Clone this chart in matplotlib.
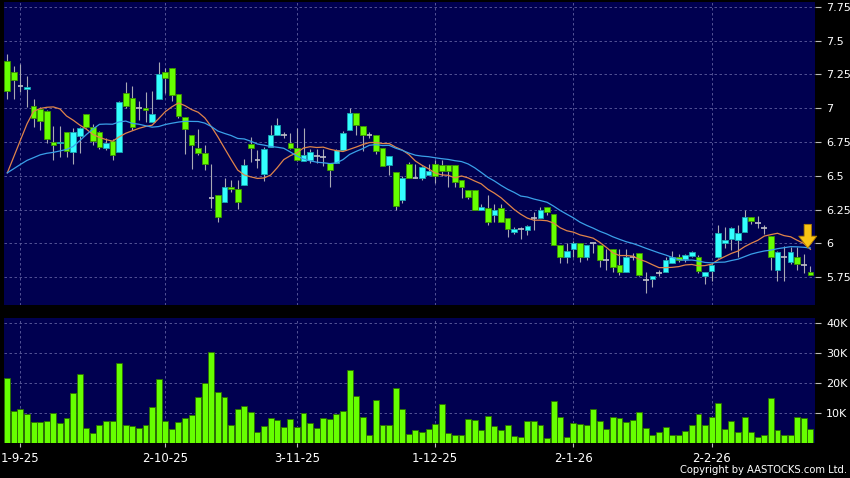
import numpy as np
import pandas as pd
import matplotlib
matplotlib.use("Agg")
import matplotlib.pyplot as plt

# daily OHLC (oldest first)
opens = [7.35, 7.265, 7.166, 7.14, 7.016, 6.99, 6.98, 6.752, 6.74, 6.826,
         6.679, 6.797, 6.955, 6.863, 6.826, 6.705, 6.76, 6.679, 7.11, 7.072,
         7.0, 7.0, 6.90, 7.066, 7.266, 7.295, 7.103, 6.934, 6.803, 6.705,
         6.668, 6.336, 6.36, 6.306, 6.42, 6.40, 6.43, 6.734, 6.614, 6.513,
         6.712, 6.80, 6.80, 6.741, 6.704, 6.606, 6.618, 6.648, 6.64, 6.594,
         6.594, 6.692, 6.84, 6.963, 6.865, 6.803, 6.803, 6.704, 6.58, 6.527,
         6.323, 6.586, 6.48, 6.48, 6.505, 6.586, 6.58, 6.58, 6.58, 6.468,
         6.394, 6.394, 6.25, 6.259, 6.21, 6.259, 6.185, 6.086, 6.103, 6.10,
         6.185, 6.185, 6.266, 6.217, 5.988, 5.90, 5.956, 6.0, 5.90, 6.0,
         5.988, 5.877, 5.956, 5.84, 5.79, 5.90, 5.926, 5.73, 5.734, 5.783,
         5.79, 5.857, 5.90, 5.884, 5.908, 5.90, 5.757, 5.795, 5.90, 6.0,
         6.03, 6.025, 6.087, 6.198, 6.15, 6.111, 6.057, 5.80, 5.90, 5.864,
         5.90, 5.84, 5.79]
highs = [7.40, 7.314, 7.326, 7.24, 7.065, 7.01, 6.986, 6.87, 6.87, 6.826,
         6.85, 6.86, 6.955, 6.88, 6.83, 6.78, 6.77, 7.05, 7.19, 7.166,
         7.05, 7.123, 7.128, 7.34, 7.295, 7.295, 7.103, 6.934, 6.803, 6.845,
         6.73, 6.589, 6.36, 6.483, 6.47, 6.47, 6.626, 6.79, 6.69, 6.71,
         6.877, 6.93, 6.82, 6.815, 6.85, 6.852, 6.70, 6.70, 6.70, 6.594,
         6.70, 6.83, 7.0, 6.963, 6.865, 6.82, 6.803, 6.704, 6.643, 6.527,
         6.50, 6.60, 6.59, 6.57, 6.59, 6.616, 6.62, 6.58, 6.58, 6.468,
         6.394, 6.394, 6.29, 6.357, 6.29, 6.29, 6.185, 6.12, 6.12, 6.135,
         6.23, 6.266, 6.266, 6.217, 5.988, 6.0, 6.02, 6.0, 5.988, 6.0,
         5.988, 5.956, 5.956, 5.956, 5.956, 5.93, 5.926, 5.79, 5.76, 5.80,
         5.90, 5.94, 5.92, 5.92, 5.94, 5.913, 5.79, 5.85, 6.136, 6.124,
         6.12, 6.137, 6.247, 6.198, 6.20, 6.136, 6.057, 5.944, 5.98, 5.975,
         5.975, 5.92, 5.83]
lows = [7.065, 7.065, 7.122, 7.01, 6.863, 6.839, 6.74, 6.617, 6.64, 6.64,
        6.587, 6.666, 6.85, 6.73, 6.70, 6.69, 6.617, 6.675, 7.0, 6.84,
        6.914, 6.90, 6.90, 7.066, 7.11, 7.05, 6.926, 6.66, 6.55, 6.655,
        6.54, 6.262, 6.158, 6.306, 6.38, 6.256, 6.43, 6.60, 6.557, 6.46,
        6.712, 6.80, 6.78, 6.70, 6.606, 6.606, 6.594, 6.594, 6.57, 6.42,
        6.594, 6.692, 6.84, 6.80, 6.68, 6.78, 6.66, 6.569, 6.507, 6.25,
        6.30, 6.48, 6.48, 6.47, 6.505, 6.443, 6.50, 6.42, 6.42, 6.333,
        6.33, 6.25, 6.25, 6.136, 6.16, 6.16, 6.05, 6.07, 6.03, 6.06,
        6.10, 6.185, 6.21, 5.988, 5.852, 5.852, 5.90, 5.865, 5.88, 5.93,
        5.823, 5.803, 5.79, 5.766, 5.79, 5.88, 5.76, 5.63, 5.68, 5.76,
        5.79, 5.857, 5.86, 5.86, 5.90, 5.78, 5.703, 5.72, 5.89, 5.963,
        5.95, 5.90, 6.087, 6.14, 6.11, 6.07, 5.80, 5.72, 5.725, 5.85,
        5.80, 5.78, 5.765]
closes = [7.13, 7.21, 7.166, 7.155, 6.927, 6.905, 6.77, 6.728, 6.75, 6.68,
          6.821, 6.85, 6.863, 6.76, 6.71, 6.74, 6.654, 7.048, 7.018, 6.863,
          7.0, 6.988, 6.956, 7.251, 7.221, 7.098, 6.94, 6.847, 6.729, 6.665,
          6.587, 6.336, 6.195, 6.414, 6.40, 6.306, 6.58, 6.705, 6.614, 6.70,
          6.798, 6.877, 6.80, 6.704, 6.618, 6.655, 6.675, 6.648, 6.64, 6.545,
          6.692, 6.815, 6.963, 6.872, 6.803, 6.803, 6.68, 6.569, 6.643, 6.273,
          6.483, 6.48, 6.48, 6.562, 6.537, 6.498, 6.537, 6.537, 6.456, 6.414,
          6.34, 6.25, 6.27, 6.16, 6.25, 6.16, 6.103, 6.103, 6.103, 6.128,
          6.185, 6.25, 6.229, 5.988, 5.90, 5.943, 6.0, 5.90, 5.988, 6.0,
          5.877, 5.877, 5.823, 5.79, 5.90, 5.90, 5.766, 5.73, 5.758, 5.783,
          5.877, 5.90, 5.876, 5.913, 5.933, 5.795, 5.79, 5.84, 6.074, 6.025,
          6.11, 6.074, 6.198, 6.166, 6.15, 6.111, 5.90, 5.938, 5.90, 5.938,
          5.85, 5.84, 5.765]
# closes before the first bar (only feed the moving averages)
pre_closes = [6.59, 6.54, 6.56, 6.52, 6.49, 6.54, 6.59, 6.54, 6.46, 6.39,
              6.0, 5.95, 5.95, 6.0, 6.7, 6.68, 6.7, 6.9, 7.2]
# volume in thousands of shares
volume = [21.5, 10.6, 11.5, 9.6, 7.2, 7.0, 7.4, 10.0, 6.7, 8.3,
          16.7, 23.0, 5.1, 3.4, 6.2, 7.4, 7.5, 26.5, 6.1, 5.6,
          5.1, 6.1, 11.9, 21.4, 7.3, 4.6, 7.0, 8.3, 9.3, 15.2,
          20.0, 30.3, 16.9, 15.5, 5.9, 11.4, 12.5, 10.4, 3.6, 5.6,
          8.4, 7.7, 5.4, 8.0, 5.4, 10.1, 6.6, 5.2, 8.4, 8.1,
          9.6, 10.7, 24.3, 15.6, 8.6, 2.7, 14.4, 6.1, 6.0, 18.3,
          11.4, 3.1, 4.4, 3.9, 4.8, 6.3, 13.0, 3.4, 2.8, 2.8,
          8.0, 7.6, 4.3, 9.1, 5.7, 4.4, 6.1, 2.5, 2.2, 7.5,
          7.4, 5.9, 1.8, 13.9, 8.8, 2.1, 6.6, 6.3, 5.9, 11.4,
          7.5, 4.6, 8.8, 8.4, 6.9, 7.6, 10.4, 5.0, 2.8, 3.6,
          5.5, 2.7, 2.8, 4.1, 5.9, 9.6, 6.1, 8.8, 13.4, 4.9,
          7.4, 3.8, 8.7, 3.9, 2.1, 2.8, 15.0, 4.5, 2.9, 2.9,
          8.7, 8.3, 4.9]
date_labels = ["1-9-25", "2-10-25", "3-11-25", "1-12-25", "2-1-26", "2-2-26"]
date_idx = [2, 24, 44, 65, 86, 107]
price_ticks = [5.75, 6, 6.25, 6.5, 6.75, 7, 7.25, 7.5, 7.75]
price_tick_labels = ["5.75", "6", "6.25", "6.5", "6.75", "7", "7.25", "7.5", "7.75"]
vol_ticks = [10, 20, 30, 40]
vol_tick_labels = ["10K", "20K", "30K", "40K"]

o = np.array(opens)
h = np.array(highs)
l = np.array(lows)
c = np.array(closes)
v = np.array(volume)
x = np.arange(len(c))

allc = pd.Series(pre_closes + closes)
ma10 = allc.rolling(10).mean().values[len(pre_closes):]
ma20 = allc.rolling(20).mean().values[len(pre_closes):]

navy = "#000050"
grid_c = "#5f5f9f"
up_c, up_edge = "#33ffff", "#1aa6b0"
dn_c, dn_edge = "#66ff00", "#3d9400"
wick_c = "#a9a9b4"

fig = plt.figure(figsize=(8.5, 4.78), dpi=100, facecolor="black")
ax = fig.add_axes([4 / 850, 1 - 305 / 478, 811 / 850, 303 / 478], facecolor=navy)
ax2 = fig.add_axes([4 / 850, 1 - 443.3 / 478, 811 / 850, 125 / 478], facecolor=navy)

for a in (ax, ax2):
    for s in a.spines.values():
        s.set_visible(False)
    a.set_xlim(-0.5, 122.7)
    a.set_xticks(date_idx)
    a.grid(True, color=grid_c, linestyle=(0, (3, 3)), linewidth=0.6)
    a.set_axisbelow(True)
    a.yaxis.tick_right()
    a.tick_params(axis="y", colors="white", labelsize=8, length=4, pad=4,
                  color="#bbbbbb", width=0.8)

# candles
up = c > o
dn = c < o
flat = c == o
ax.vlines(x, l, h, color=wick_c, linewidth=0.8, zorder=2)
ax.bar(x[up], c[up] - o[up], bottom=o[up], width=0.86, color=up_c,
       edgecolor=up_edge, linewidth=0.6, zorder=3)
ax.bar(x[dn], o[dn] - c[dn], bottom=c[dn], width=0.86, color=dn_c,
       edgecolor=dn_edge, linewidth=0.6, zorder=3)
ax.hlines(c[flat], x[flat] - 0.43, x[flat] + 0.43, color="#c0c0c8",
          linewidth=1.2, zorder=3)

ax.plot(x, ma10, color="#e0844a", linewidth=0.9, zorder=4)
ax.plot(x, ma20, color="#3aa0e8", linewidth=0.9, zorder=4)

# marker arrow on the latest 10-day average
ax.annotate("", xy=(x[-1] - 0.4, ma10[-1] + 0.01), xytext=(0, 17),
            textcoords="offset points", zorder=6,
            arrowprops=dict(arrowstyle="simple,head_width=1.3,head_length=0.85,tail_width=0.52",
                            fc="#f9c414", ec="#b07d00", lw=0.6, mutation_scale=10,
                            shrinkA=0, shrinkB=0))

ax.set_ylim(5.544, 7.785)
ax.set_yticks(price_ticks)
ax.set_yticklabels(price_tick_labels)
ax.tick_params(axis="x", length=0, labelbottom=False)

ax2.bar(x, v, width=0.9, color="#66ff00", edgecolor="#2b6e00", linewidth=0.6, zorder=3)
ax2.set_ylim(0, 41.4)
ax2.set_yticks(vol_ticks)
ax2.set_yticklabels(vol_tick_labels)
ax2.set_xticklabels(date_labels)
ax2.tick_params(axis="x", colors="white", labelsize=8.5, length=3, pad=3,
                color="#bbbbbb", width=0.8)

fig.text(847 / 850, 3 / 478, "Copyright by AASTOCKS.com Ltd.", color="white",
         fontsize=7.2, ha="right", va="bottom")

fig.savefig("out.png", dpi=100, facecolor="black")
